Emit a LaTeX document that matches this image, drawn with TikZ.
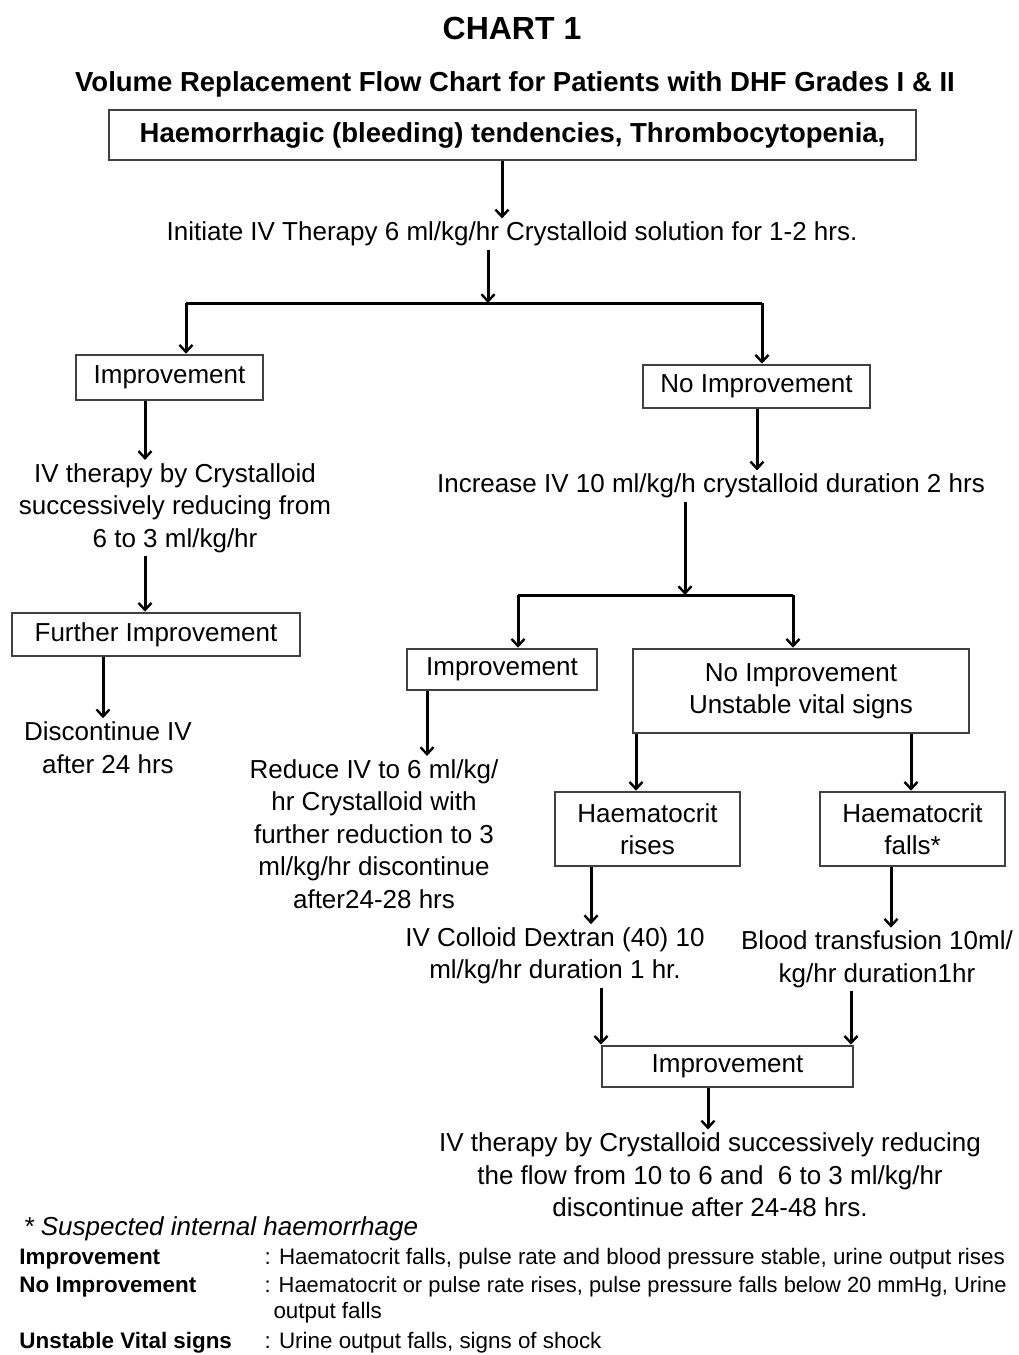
\documentclass[tikz,border=0pt]{standalone}
\usepackage{fontspec}
\setmainfont{Liberation Sans}
\usetikzlibrary{arrows.meta}

\begin{document}
\begin{tikzpicture}[x=1pt, y=1pt, line width=3pt,
  every node/.style={font=\fontsize{26}{32.5}\selectfont, align=center, inner sep=2pt},
  box/.style={draw=black!75, line width=2.6pt},
  arr/.style={-{Straight Barb[length=7pt,width=13pt,line width=2.4pt]}},
  note/.style={anchor=west, inner sep=0pt, font=\fontsize{22.4}{27}\selectfont},
  notehead/.style={note, font=\fontsize{22.4}{27}\selectfont\bfseries}]
\useasboundingbox (0,0) rectangle (1018,-1355);
% headings
\node[font=\fontsize{32}{38}\selectfont\bfseries] (chart) at (512,-28) {CHART 1};
\node[font=\fontsize{27.5}{33}\selectfont\bfseries] (title) at (515,-84)
  {Volume Replacement Flow Chart for Patients with DHF Grades I \& II};
\node[box, font=\fontsize{27.5}{33}\selectfont\bfseries, minimum width=807, minimum height=50]
  (top) at (512.5,-135) {Haemorrhagic (bleeding) tendencies, Thrombocytopenia,};
\node (init) at (512,-234) {Initiate IV Therapy 6 ml/kg/hr Crystalloid solution for 1-2 hrs.};
% first split
\coordinate (barL) at (186,-303);
\coordinate (barR) at (762,-303);
\node[box, minimum width=187, minimum height=45] (imp1) at (169.5,-377.5) {Improvement};
\node[box, minimum width=227, minimum height=43] (noimp1) at (756.5,-386.5) {No Improvement};
% left branch
\node (ther1) at (175,-508) {IV therapy by Crystalloid\\successively reducing from\\6 to 3 ml/kg/hr};
\node[box, minimum width=288, minimum height=43] (fimp) at (156,-634.5) {Further Improvement};
\node (disc) at (108,-747.5) {Discontinue IV\\after 24 hrs};
% right branch
\node (incr) at (711,-486) {Increase IV 10 ml/kg/h crystalloid duration 2 hrs};
\coordinate (bar2L) at (518,-595);
\coordinate (bar2R) at (793,-595);
\node[box, minimum width=190, minimum height=41] (imp2) at (502,-669.5) {Improvement};
\node[box, minimum width=336, minimum height=84] (noimp2) at (801,-691)
  {No Improvement\\Unstable vital signs};
\node (reduce) at (374,-834) {Reduce IV to 6 ml/kg/\\hr Crystalloid with\\further reduction to 3\\ml/kg/hr discontinue\\after24-28 hrs};
\node[box, minimum width=185, minimum height=74] (hrise) at (647.5,-829) {Haematocrit\\rises};
\node[box, minimum width=185, minimum height=74] (hfall) at (912.5,-829) {Haematocrit\\falls*};
\node (dex) at (555,-956) {IV Colloid Dextran (40) 10\\ml/kg/hr duration 1 hr.};
\node (blood) at (877,-959.5) {Blood transfusion 10ml/\\kg/hr duration1hr};
\node[box, minimum width=251, minimum height=41] (imp3) at (727.5,-1066.5) {Improvement};
\node (final) at (710,-1175) {IV therapy by Crystalloid successively reducing\\the flow from 10 to 6 and~ 6 to 3 ml/kg/hr\\discontinue after 24-48 hrs.};
% connectors
\draw[arr] (502,0 |- top.south) -- (502,0 |- init.north);
\draw[arr] (488,0 |- init.south) -- (488,0 |- barL);
\draw (barL) -- (barR);
\draw[arr] (barL) -- (barL |- imp1.north);
\draw[arr] (barR) -- (barR |- noimp1.north);
\draw[arr] (145,0 |- imp1.south) -- (145,0 |- ther1.north);
\draw[arr] (145,0 |- ther1.south) -- (145,0 |- fimp.north);
\draw[arr] (103,0 |- fimp.south) -- (103,0 |- disc.north);
\draw[arr] (757,0 |- noimp1.south) -- (757,0 |- incr.north);
\draw[arr] (685,0 |- incr.south) -- (685,0 |- bar2L);
\draw (bar2L) -- (bar2R);
\draw[arr] (bar2L) -- (bar2L |- imp2.north);
\draw[arr] (bar2R) -- (bar2R |- noimp2.north);
\draw[arr] (427,0 |- imp2.south) -- (427,0 |- reduce.north);
\draw[arr] (636,0 |- noimp2.south) -- (636,0 |- hrise.north);
\draw[arr] (911,0 |- noimp2.south) -- (911,0 |- hfall.north);
\draw[arr] (591,0 |- hrise.south) -- (591,0 |- dex.north);
\draw[arr] (891,0 |- hfall.south) -- (891,0 |- blood.north);
\draw[arr] (601,0 |- dex.south) -- (601,0 |- imp3.north);
\draw[arr] (851,0 |- blood.south) -- (851,0 |- imp3.north);
\draw[arr] (708,0 |- imp3.south) -- (708,0 |- final.north);
% notes
\node[note, font=\fontsize{26}{30}\selectfont\itshape] (star) at (22,-1229) {* Suspected internal haemorrhage};
\node[notehead] (k1) at (18,-1259) {Improvement};
\node[note] (d1) at (263,-1259) {: Haematocrit falls, pulse rate and blood pressure stable, urine output rises};
\node[notehead] (k2) at (18,-1287) {No Improvement};
\node[note, font=\fontsize{21.9}{27}\selectfont] (d2) at (263,-1287) {: Haematocrit or pulse rate rises, pulse pressure falls below 20 mmHg, Urine};
\node[note] (d2b) at (272,-1313) {output falls};
\node[notehead] (k3) at (18,-1343) {Unstable Vital signs};
\node[note] (d3) at (263,-1343) {: Urine output falls, signs of shock};
\end{tikzpicture}
\end{document}
